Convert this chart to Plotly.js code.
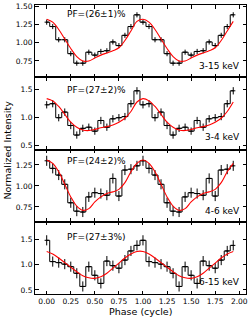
<!DOCTYPE html>
<html><head><meta charset="utf-8">
<script src="https://cdn.plot.ly/plotly-3.0.1.min.js"></script>
<style>html,body{margin:0;padding:0;background:#fff}#chart{width:251px;height:321px}</style>
</head><body><div id="chart"></div>
<script>
// phase bins of one cycle (16 bins); the profile is shown for two cycles
const phaseBins = [0.0000, 0.0625, 0.1250, 0.1875, 0.2500, 0.3125, 0.3750, 0.4375,
                   0.5000, 0.5625, 0.6250, 0.6875, 0.7500, 0.8125, 0.8750, 0.9375];

// 3-15 keV
const rate_3_15  = [1.28, 1.22, 1.04, 1.04, 0.85, 0.72, 0.72, 0.87, 0.83, 0.88, 0.89, 1.01, 0.96, 1.10, 1.22, 1.38];
const err_3_15   = [0.035,0.035,0.035,0.035,0.035,0.035,0.035,0.035,0.035,0.035,0.035,0.035,0.035,0.035,0.035,0.035];
const model_3_15 = [1.32, 1.28, 1.18, 1.05, 0.92, 0.81, 0.75, 0.75, 0.79, 0.83, 0.86, 0.89, 0.93, 1.03, 1.16, 1.29];
// 3-4 keV
const rate_3_4   = [1.23, 1.25, 1.00, 1.10, 0.86, 0.69, 0.81, 0.83, 0.76, 0.95, 0.83, 0.98, 1.00, 1.02, 1.25, 1.48];
const err_3_4    = [0.065,0.065,0.065,0.065,0.065,0.065,0.065,0.065,0.065,0.065,0.065,0.065,0.065,0.065,0.065,0.065];
const model_3_4  = [1.34, 1.30, 1.20, 1.06, 0.92, 0.83, 0.78, 0.77, 0.79, 0.82, 0.84, 0.87, 0.92, 0.99, 1.11, 1.28];
// 4-6 keV
const rate_4_6   = [1.30, 1.21, 1.13, 1.02, 0.80, 0.70, 0.69, 0.87, 0.92, 0.91, 0.89, 1.09, 0.88, 1.19, 1.20, 1.24];
const err_4_6    = [0.06, 0.06, 0.06, 0.06, 0.06, 0.06, 0.06, 0.06, 0.06, 0.06, 0.06, 0.06, 0.06, 0.06, 0.06, 0.06];
const model_4_6  = [1.31, 1.27, 1.17, 1.02, 0.87, 0.76, 0.71, 0.73, 0.81, 0.87, 0.91, 0.93, 0.96, 1.04, 1.17, 1.27];
// 6-15 keV
const rate_6_15  = [1.48, 1.06, 1.04, 1.01, 0.96, 0.83, 0.57, 0.96, 0.79, 0.63, 1.07, 0.98, 0.93, 1.09, 1.27, 1.38];
const err_6_15   = [0.10, 0.10, 0.10, 0.10, 0.10, 0.10, 0.10, 0.10, 0.10, 0.10, 0.10, 0.10, 0.10, 0.10, 0.10, 0.10];
const model_6_15 = [1.26, 1.21, 1.13, 1.04, 0.95, 0.86, 0.78, 0.74, 0.73, 0.76, 0.83, 0.93, 1.03, 1.13, 1.21, 1.26];

const bandLabels = ['3-15 keV', '3-4 keV', '4-6 keV', '6-15 keV'];
const pfLabels   = ['PF=(26\u00b11)%', 'PF=(27\u00b12)%', 'PF=(24\u00b12)%', 'PF=(27\u00b13%)'];

const panels = [
  {rate: rate_3_15, err: err_3_15, model: model_3_15, range: [0.528, 1.514], dtick: 0.25, fmt: '.2f', pfY: 0.87, bandY: 0.16},
  {rate: rate_3_4,  err: err_3_4,  model: model_3_4,  range: [0.432, 1.722], dtick: 0.5,  fmt: '.1f', pfY: 0.83, bandY: 0.177},
  {rate: rate_4_6,  err: err_4_6,  model: model_4_6,  range: [0.574, 1.4345], dtick: 0.25, fmt: '.2f', pfY: 0.845, bandY: 0.149},
  {rate: rate_6_15, err: err_6_15, model: model_6_15, range: [0.421, 1.846], dtick: 0.5,  fmt: '.1f', pfY: 0.79, bandY: 0.17}
];

const FONT = 'DejaVu Sans';
const twoCycles = a => a.concat(a);
const phase2 = phaseBins.concat(phaseBins.map(v => v + 1));

const traces = [];
const layout = {
  width: 251, height: 321,
  margin: {l: 35, r: 5, t: 5, b: 27},
  paper_bgcolor: '#fff', plot_bgcolor: '#fff',
  showlegend: false,
  font: {family: FONT, size: 7.5, color: '#000'},
  annotations: []
};

panels.forEach((p, i) => {
  const s = i === 0 ? '' : String(i + 1);
  const xa = 'x' + s, ya = 'y' + s;
  traces.push({x: phase2, y: twoCycles(p.rate), xaxis: xa, yaxis: ya, mode: 'lines',
    line: {shape: 'hvh', color: '#000', width: 1}, hoverinfo: 'skip'});
  traces.push({x: phase2, y: twoCycles(p.rate), xaxis: xa, yaxis: ya, mode: 'markers',
    marker: {size: 1, color: '#000'},
    error_y: {type: 'data', array: twoCycles(p.err), color: '#000', thickness: 1, width: 0},
    error_x: {type: 'constant', value: 0.022, color: '#000', thickness: 1, width: 0},
    hoverinfo: 'skip'});
  traces.push({x: phase2, y: twoCycles(p.model), xaxis: xa, yaxis: ya, mode: 'lines',
    line: {shape: 'spline', smoothing: 1, color: '#ff0000', width: 1.1}, hoverinfo: 'skip'});

  const top = 1 - i * 0.25, bot = 1 - (i + 1) * 0.25;
  layout['xaxis' + s] = {
    domain: [0, 1], anchor: ya, range: [-0.1215, 2.07],
    tick0: 0, dtick: 0.25, tickformat: '.2f',
    ticks: 'inside', ticklen: 3.5, tickwidth: 1, tickcolor: '#000',
    showline: true, linecolor: '#000', linewidth: 1, mirror: 'ticks',
    showgrid: false, zeroline: false,
    showticklabels: i === 3,
    tickfont: {family: FONT, size: 7.5, color: '#000'}
  };
  if (i > 0) layout['xaxis' + s].matches = 'x';
  layout['yaxis' + s] = {
    domain: [bot, top], anchor: xa, range: p.range,
    tick0: 0, dtick: p.dtick, tickformat: p.fmt,
    ticks: 'inside', ticklen: 3.5, tickwidth: 1, tickcolor: '#000',
    showline: true, linecolor: '#000', linewidth: 1, mirror: 'ticks',
    showgrid: false, zeroline: false,
    tickfont: {family: FONT, size: 7.5, color: '#000'}
  };
  layout.annotations.push({xref: xa + ' domain', yref: ya + ' domain', x: 0.142, y: p.pfY,
    xanchor: 'left', yanchor: 'middle', text: pfLabels[i], showarrow: false,
    font: {family: FONT, size: 9, color: '#000'}});
  layout.annotations.push({xref: xa + ' domain', yref: ya + ' domain', x: 0.98, y: p.bandY,
    xanchor: 'right', yanchor: 'middle', text: bandLabels[i], showarrow: false,
    font: {family: FONT, size: 9, color: '#000'}});
});

layout.annotations.push({xref: 'paper', yref: 'paper', x: -0.128, y: 0.5, textangle: -90,
  xanchor: 'center', yanchor: 'middle', text: 'Normalized Intensity', showarrow: false,
  font: {family: FONT, size: 9.5, color: '#000'}});
layout.annotations.push({xref: 'paper', yref: 'paper', x: 0.5, y: -0.062,
  xanchor: 'center', yanchor: 'middle', text: 'Phase (cycle)', showarrow: false,
  font: {family: FONT, size: 9.5, color: '#000'}});

Plotly.newPlot('chart', traces, layout, {staticPlot: true, displayModeBar: false});
</script></body></html>
